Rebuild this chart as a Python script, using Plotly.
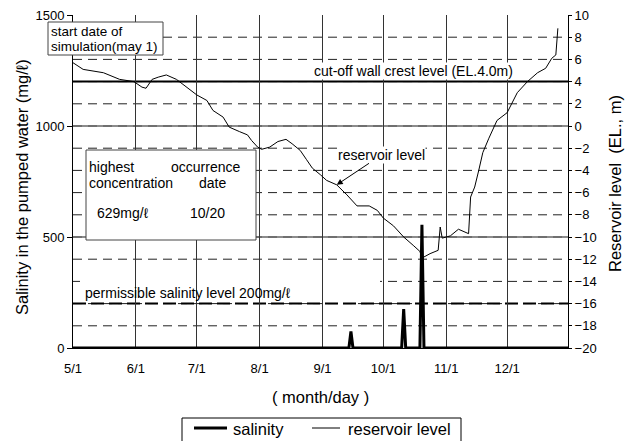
import plotly.graph_objects as go

# ---------------- data ----------------
res_dates = [
    "2001-05-01", "2001-05-06", "2001-05-16", "2001-05-24", "2001-05-31",
    "2001-06-04", "2001-06-06", "2001-06-08", "2001-06-09", "2001-06-12",
    "2001-06-16", "2001-06-21", "2001-06-26", "2001-07-01", "2001-07-06",
    "2001-07-09", "2001-07-14", "2001-07-17", "2001-07-22", "2001-07-26",
    "2001-07-28", "2001-07-31", "2001-08-02", "2001-08-06", "2001-08-10",
    "2001-08-14", "2001-08-17", "2001-08-21", "2001-08-24", "2001-08-27",
    "2001-08-31", "2001-09-03", "2001-09-08", "2001-09-13", "2001-09-18",
    "2001-09-24", "2001-09-28", "2001-10-01", "2001-10-06", "2001-10-11",
    "2001-10-16", "2001-10-19", "2001-10-20", "2001-10-24", "2001-10-28",
    "2001-10-29", "2001-10-30", "2001-11-03", "2001-11-07", "2001-11-12",
    "2001-11-13", "2001-11-15", "2001-11-17", "2001-11-19", "2001-11-22",
    "2001-11-26", "2001-12-01", "2001-12-06", "2001-12-11", "2001-12-16",
    "2001-12-20", "2001-12-23", "2001-12-25", "2001-12-26",
]
res_level = [
    5.7, 5.1, 4.8, 4.2, 4.0,
    3.5, 3.4, 3.9, 4.2, 4.4,
    4.6, 4.2, 3.5, 2.8, 2.3,
    1.4, 0.8, -0.1, -0.5, -0.8,
    -1.3, -1.9, -2.1, -1.9, -1.4,
    -1.2, -1.6, -2.2, -3.0, -3.8,
    -4.4, -4.9, -5.3, -6.2, -7.2,
    -7.2, -7.6, -8.3, -9.0, -10.0,
    -10.8, -11.3, -11.9, -11.5, -11.2,
    -9.1, -10.1, -9.9, -9.3, -9.7,
    -6.4, -5.5, -4.0, -2.4, -1.1,
    0.5, 1.2, 3.0, 4.0, 4.8,
    5.2, 6.1, 6.4, 8.8,
]

sal_dates = [
    "2001-05-01", "2001-09-14", "2001-09-15", "2001-09-16",
    "2001-10-10", "2001-10-11", "2001-10-12",
    "2001-10-19", "2001-10-20", "2001-10-21", "2001-12-31",
]
sal_values = [0, 0, 75, 0, 0, 175, 0, 0, 555, 0, 0]

month_ticks = ["2001-05-01", "2001-06-01", "2001-07-01", "2001-08-01",
               "2001-09-01", "2001-10-01", "2001-11-01", "2001-12-01"]
month_labels = ["5/1", "6/1", "7/1", "8/1", "9/1", "10/1", "11/1", "12/1"]
left_ticks = [0, 500, 1000, 1500]
right_ticks = list(range(-20, 11, 2))
CUTOFF_LEVEL = 4.0
PERMISSIBLE = 200
ARROW_DATE, ARROW_LEVEL = "2001-09-08", -5.3
SERIES_NAMES = ["salinity", "reservoir level"]

# ---------------- geometry helpers ----------------
W, H = 634, 441
L, R, T, B = 73, 66, 15, 93
PW, PH = W - L - R, H - T - B
FONT = "Liberation Sans, Arial, Helvetica, sans-serif"


def px(x):
    return (x - L) / PW


def py(y):
    return (H - B - y) / PH


fig = go.Figure()
fig.add_trace(go.Scatter(x=sal_dates, y=sal_values, name=SERIES_NAMES[0], mode="lines",
                         line=dict(color="black", width=3), yaxis="y"))
fig.add_trace(go.Scatter(x=res_dates, y=res_level, name=SERIES_NAMES[1], mode="lines",
                         line=dict(color="black", width=1), yaxis="y2"))

shapes = []
# dashed grid every 2 m on right axis
for v in right_ticks[1:-1]:
    shapes.append(dict(type="line", xref="paper", x0=0, x1=1, yref="y2", y0=v, y1=v,
                       line=dict(color="#222", width=1, dash="9px,6px"), layer="below"))
# solid grid every 500 on left axis
for v in [500, 1000]:
    shapes.append(dict(type="line", xref="paper", x0=0, x1=1, yref="y", y0=v, y1=v,
                       line=dict(color="#666", width=1.5), layer="below"))
# white background behind permissible label
shapes.append(dict(type="rect", xref="paper", yref="paper", x0=px(80), x1=px(380),
                   y0=py(301), y1=py(279), fillcolor="white", line=dict(width=0),
                   layer="between"))
# reference lines
shapes.append(dict(type="line", xref="paper", x0=0, x1=1, yref="y2", y0=CUTOFF_LEVEL,
                   y1=CUTOFF_LEVEL, line=dict(color="black", width=2), layer="between"))
shapes.append(dict(type="line", xref="paper", x0=0, x1=1, yref="y", y0=PERMISSIBLE,
                   y1=PERMISSIBLE, line=dict(color="black", width=2, dash="13px,5px"),
                   layer="between"))
# boxes
shapes.append(dict(type="rect", xref="paper", yref="paper", x0=px(48), x1=px(163),
                   y0=py(55), y1=py(22), fillcolor="white",
                   line=dict(color="#444", width=1), layer="above"))
shapes.append(dict(type="rect", xref="paper", yref="paper", x0=px(86), x1=px(256),
                   y0=py(240), y1=py(150), fillcolor="white",
                   line=dict(color="#444", width=1), layer="above"))
# legend box and samples
shapes.append(dict(type="rect", xref="paper", yref="paper", x0=px(182), x1=px(461),
                   y0=py(452), y1=py(418), fillcolor="white",
                   line=dict(color="black", width=1), layer="above"))
shapes.append(dict(type="line", xref="paper", yref="paper", x0=px(194), x1=px(227),
                   y0=py(428), y1=py(428), line=dict(color="black", width=3), layer="above"))
shapes.append(dict(type="line", xref="paper", yref="paper", x0=px(312), x1=px(340),
                   y0=py(428), y1=py(428), line=dict(color="black", width=1), layer="above"))

annotations = []


def txt(text, x, y, size=14, bg=None):
    d = dict(text=text, xref="paper", yref="paper", x=px(x), y=py(y), xanchor="left",
             yanchor="middle", showarrow=False, font=dict(family=FONT, size=size, color="black"),
             borderpad=0)
    if bg:
        d["bgcolor"] = bg
    annotations.append(d)


txt("start date of", 50, 31, size=13.5)
txt("simulation(may 1)", 50, 46, size=13.5)
txt("highest", 88, 167)
txt("occurrence", 170, 167)
txt("concentration", 88, 183)
txt("date", 198, 183)
txt("629mg/ℓ", 96, 213)
txt("10/20", 189, 213)
txt("permissible salinity level 200mg/ℓ", 84, 293)
txt("cut-off wall crest level (EL.4.0m)", 313, 71, bg="white")
# legend labels
txt(SERIES_NAMES[0], 232, 429, size=16.5)
txt(SERIES_NAMES[1], 347, 429, size=16.5)

annotations.append(dict(text="reservoir level", x=ARROW_DATE, y=ARROW_LEVEL, xref="x", yref="y2",
                        ax=45, ay=-30, showarrow=True, arrowhead=2, arrowsize=1.2, arrowwidth=1,
                        arrowcolor="black", bgcolor="white", borderpad=0,
                        font=dict(family=FONT, size=14, color="black")))

# axis titles
annotations.append(dict(text="Salinity in the pumped water (mg/ℓ)", xref="paper", yref="paper",
                        x=px(22), y=py(187), textangle=-90, showarrow=False,
                        xanchor="center", yanchor="middle",
                        font=dict(family=FONT, size=16.5, color="black")))
annotations.append(dict(text="Reservoir level  (EL., m)", xref="paper", yref="paper",
                        x=px(615), y=py(184), textangle=-90, showarrow=False,
                        xanchor="center", yanchor="middle",
                        font=dict(family=FONT, size=16.5, color="black")))
annotations.append(dict(text="( month/day )", xref="paper", yref="paper",
                        x=px(320), y=py(397), showarrow=False,
                        xanchor="center", yanchor="middle",
                        font=dict(family=FONT, size=16.5, color="black")))

fig.update_layout(
    width=W, height=H,
    margin=dict(l=L, r=R, t=T, b=B, pad=0, autoexpand=False),
    paper_bgcolor="white", plot_bgcolor="white",
    font=dict(family=FONT, size=13, color="black"),
    xaxis=dict(type="date", range=["2001-05-01", "2001-12-31"], tickvals=month_ticks,
               ticktext=month_labels, showgrid=True, gridcolor="#333", gridwidth=1,
               showline=True, linecolor="black", linewidth=1, ticks="", zeroline=False,
               ticklabelstandoff=8, tickfont=dict(size=13), automargin=False),
    yaxis=dict(range=[0, 1500], tickvals=left_ticks, showgrid=False, zeroline=False,
               showline=True, linecolor="black", linewidth=1, ticks="outside", ticklen=5,
               tickcolor="black", tickfont=dict(size=13), automargin=False),
    yaxis2=dict(range=[-20, 10], tickvals=right_ticks, overlaying="y", side="right",
                showgrid=False, zeroline=False, showline=True, linecolor="black",
                linewidth=1, ticks="outside", ticklen=3, tickcolor="black",
                tickfont=dict(size=13), automargin=False),
    showlegend=False,
    shapes=shapes,
    annotations=annotations,
)

fig.write_html("out.html")
